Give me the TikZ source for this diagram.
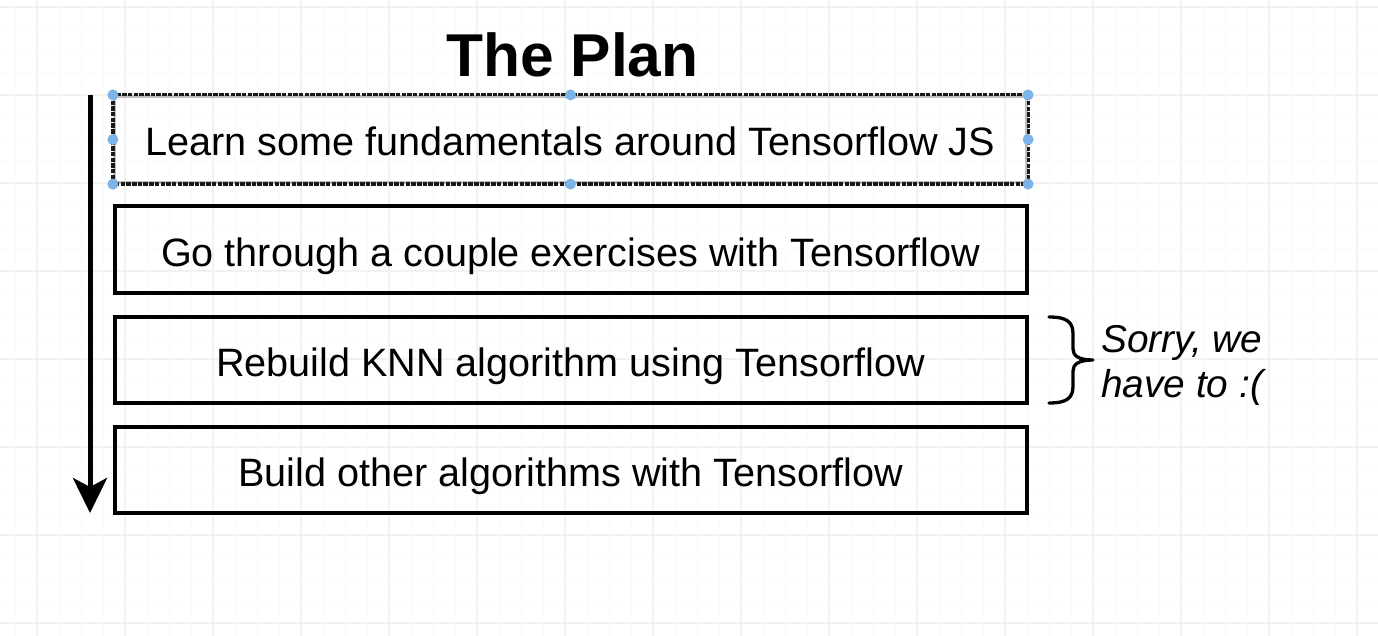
\documentclass[tikz,border=0pt]{standalone}
\usepackage{fontspec}
\setmainfont{Liberation Sans}
\usetikzlibrary{arrows.meta}
\definecolor{gridminor}{HTML}{FAFAFA}
\definecolor{gridmajor}{HTML}{F2F2F2}
\definecolor{handle}{HTML}{7DB4E8}
\begin{document}
\begin{tikzpicture}[x=1pt,y=-1pt,
  stepbox/.style={draw=black, line width=4, minimum width=912, minimum height=86,
    inner sep=0, text height=33, text depth=0, font=\fontsize{39.6}{47}\selectfont},
  selbox/.style={stepbox, draw=gray!50, line width=3.2},
  seldash/.style={draw=black!90, line width=3.2, dash pattern=on 4.5 off 1.2},
  sidetext/.style={anchor=base west, inner sep=0, font=\itshape\fontsize{38.8}{46}\selectfont},
  flowarrow/.style={line width=5, -{Stealth[length=35, width=34, inset=9]}},
  bracestyle/.style={line width=3.3, line cap=round, line join=round},
  handledot/.style={fill=handle}
]
\useasboundingbox (0,0) rectangle (1378,636);
\fill[white] (0,0) rectangle (1378,636);
% grid
\foreach \x in {15,37,...,1378} \draw[gridminor, line width=1] (\x,0) -- (\x,636);
\foreach \y in {7,29,...,636} \draw[gridminor, line width=1] (0,\y) -- (1378,\y);
\foreach \x in {37,125,...,1378} \draw[gridmajor, line width=1.2] (\x,0) -- (\x,636);
\foreach \y in {7,95,...,636} \draw[gridmajor, line width=1.2] (0,\y) -- (1378,\y);

% title
\node (title) [anchor=base, inner sep=0, font=\bfseries\fontsize{60.5}{72}\selectfont] at (572.5,77) {The Plan};

% boxes
\node (b1) [selbox] at (570.5,139.5) {Learn some fundamentals around Tensorflow JS};
\draw[seldash] (b1.north west) rectangle (b1.south east);
\node (b2) [stepbox] at (570.5,249.5) {Go through a couple exercises with Tensorflow};
\node (b3) [stepbox] at (570.5,359.5) {Rebuild KNN algorithm using Tensorflow};
\node (b4) [stepbox] at (570.5,469.5) {Build other algorithms with Tensorflow};

% selection handles
\foreach \a in {north west,north,north east,west,east,south west,south,south east}
  \fill[handledot] (b1.\a) circle (5.5);

% arrow
\coordinate (a0) at (90,95);
\coordinate (a1) at (90,513);
\draw[flowarrow] (a0) -- (a1);

% brace
\coordinate (br0) at (1049,317);
\coordinate (brm) at (1093,360);
\coordinate (br1) at (1049,403);
\draw[bracestyle] (br0) .. controls (1067,317) and (1073,322) .. (1073,334)
  -- (1073,349) .. controls (1073,356) and (1079,360) .. (brm)
  .. controls (1079,360) and (1073,364) .. (1073,371)
  -- (1073,386) .. controls (1073,398) and (1067,403) .. (br1);

\node (s1) [sidetext] at (1101,352) {Sorry, we};
\node (s2) [sidetext] at (1101,397) {have to :(};
\end{tikzpicture}
\end{document}
